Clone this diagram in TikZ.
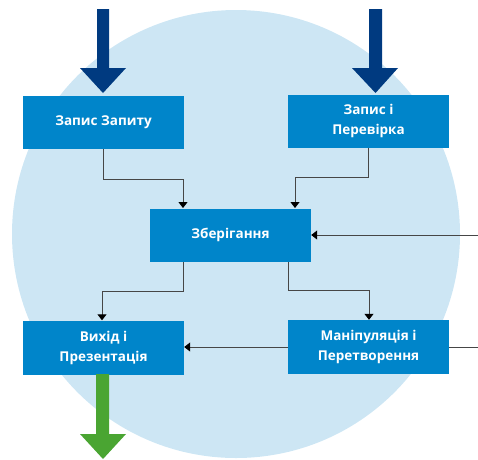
\documentclass[tikz,border=0pt]{standalone}
\usepackage{fontspec}
\setmainfont{Open Sans}
\usetikzlibrary{arrows.meta}
\definecolor{boxblue}{RGB}{0,133,202}
\definecolor{darkblue}{RGB}{0,58,128}
\definecolor{arrgreen}{RGB}{74,165,50}
\definecolor{circblue}{RGB}{205,230,244}
\definecolor{linegray}{RGB}{70,70,70}
\tikzset{
  procbox/.style={fill=boxblue, draw=none, text=white, font=\fontsize{13.5}{20}\selectfont\bfseries, align=center, minimum width=161pt, minimum height=53pt, inner sep=0pt},
  conn/.style={draw=linegray, line width=1pt, -{Triangle[width=9pt,length=6pt,color=black]}},
}
\begin{document}
\begin{tikzpicture}[x=1pt,y=-1pt]
\useasboundingbox (0,0) rectangle (478,459);
\fill[circblue] (236,234) circle (224);
% boxes
\node[procbox] (req) at (103.5,122.5) {Запис Запиту};
\node[procbox] (chk) at (368.5,121) {Запис і\\Перевірка};
\node[procbox] (store) at (230.5,235) {Зберігання};
\coordinate (inR) at (478,235);
\coordinate (inR2) at (478,347);
\node[procbox, minimum height=54pt] (out) at (103.5,347.5) {Вихід і\\Презентація};
% line running behind the manipulation box to the output box
\draw[conn] (inR2) -- (out.east |- inR2);
\node[procbox, minimum height=54pt] (man) at (368.5,347) {Маніпуляція і\\Перетворення};
% connectors
\draw[conn] (req.south) |- (183,179) -- (183,208);
\draw[conn] (chk.south) |- (295,177) -- (295,208);
\draw[conn] (183,262) |- (102,291) -- (out.north -| 102,0);
\draw[conn] (288,262) |- (369,290) -- (man.north -| 369,0);
\draw[conn] (inR) -- (store.east);
% big arrows
\fill[darkblue] (97,9) -- (109,9) -- (109,68) -- (126,68) -- (103,93) -- (80,68) -- (97,68) -- cycle;
\fill[darkblue] (369,9) -- (382,9) -- (382,68) -- (398,68) -- (375.5,93) -- (352,68) -- (369,68) -- cycle;
\fill[arrgreen] (96,374) -- (109,374) -- (109,434) -- (126,434) -- (103,459) -- (80,434) -- (96,434) -- cycle;
\end{tikzpicture}
\end{document}
